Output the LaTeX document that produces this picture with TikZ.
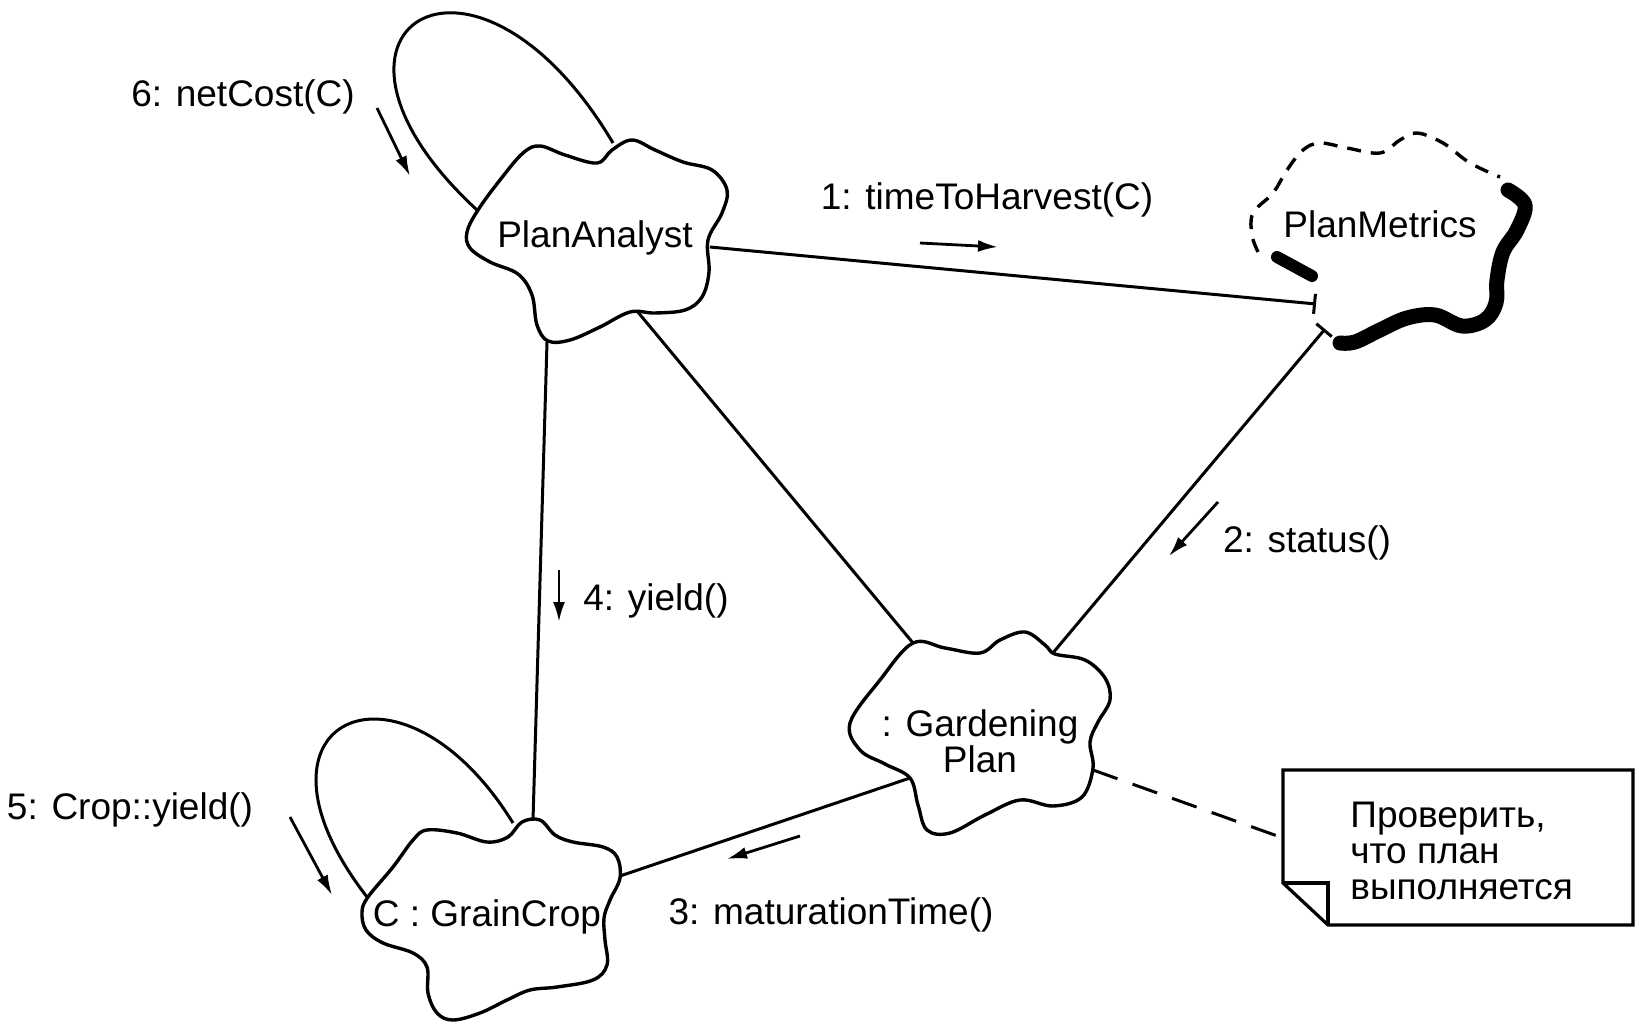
\documentclass[tikz,border=0pt]{standalone}
\usepackage{fontspec}
\setmainfont{Liberation Sans}
\usetikzlibrary{arrows.meta}
\begin{document}
\begin{tikzpicture}[x=0.5pt,y=-0.5pt,
  cloudline/.style={line width=1.7pt, line join=round},
  link/.style={line width=1.5pt},
  msg/.style={line width=1.4pt, -{Latex[length=10pt,width=6pt]}},
  lbl/.style={font=\fontsize{18.5}{21}\selectfont, inner sep=0pt},
  notebox/.style={line width=1.6pt, line join=miter}]

\useasboundingbox (0,0) rectangle (1639,1033);
\fill[white] (0,0) rectangle (1639,1033);

% ---- object clouds ----
% PlanAnalyst
\draw[cloudline] plot[smooth cycle, tension=0.6] coordinates {
  (467,232) (478,210) (500,180) (523,153) (540,146) (565,155) (597,163)
  (612,150) (632,140) (655,150) (683,162) (712,170) (727,190) (722,213)
  (708,240) (709,272) (702,297) (685,310) (655,313) (630,312) (600,327)
  (570,340) (548,341) (537,325) (532,295) (518,274) (490,262) (470,248)};
\node[lbl] (pa) at (595,238) {PlanAnalyst};

% : Gardening Plan
\draw[cloudline] plot[smooth cycle, tension=0.6] coordinates {
  (850,723) (880,680) (913,643) (945,648) (980,653) (1000,640) (1025,632)
  (1045,645) (1055,654) (1085,660) (1105,678) (1110,700) (1098,722)
  (1090,742) (1093,768) (1082,797) (1053,806) (1020,800) (985,815)
  (950,833) (927,830) (918,805) (910,778) (885,764) (860,750)};
\node[lbl, align=center] (gp) at (980,741) {: Gardening\\[-3pt]Plan};

% C : GrainCrop
\draw[cloudline] plot[smooth cycle, tension=0.6] coordinates {
  (368,897) (362,912) (366,930) (383,943) (413,953) (427,967) (428,993)
  (437,1013) (453,1020) (480,1013) (507,1000) (530,990) (557,987)
  (593,980) (607,965) (605,940) (604,918) (610,900) (620,878) (617,857)
  (603,847) (573,842) (555,835) (540,820) (522,822) (508,837) (487,842)
  (457,833) (427,830) (413,840) (393,867)};
\node[lbl] (gc) at (487,917) {C : GrainCrop};

% PlanMetrics: dashed outline with a heavy stroke on its lower right
\draw[line width=1.7pt, dash pattern=on 7pt off 5pt] plot[smooth, tension=0.6] coordinates {
  (1258,252) (1252,235) (1253,213) (1273,193) (1287,170) (1303,150)
  (1320,143) (1347,148) (1380,153) (1400,140) (1417,133) (1443,143)
  (1470,163) (1500,177)};
\draw[line width=7.5pt, line cap=round, line join=round] plot[smooth, tension=0.6] coordinates {
  (1508,190) (1525,205) (1517,230) (1503,252) (1497,280) (1496,303)
  (1485,320) (1462,326) (1435,315) (1407,318) (1380,330) (1355,342) (1340,343)};
\draw[line width=6pt, line cap=round] (1277,257) -- (1312,276);
\node[lbl] (pm) at (1380,224) {PlanMetrics};

% ---- attachment points on the outlines ----
\coordinate (pa-e)  at (710,247);
\coordinate (pa-se) at (637,311);
\coordinate (pa-s)  at (547,342);
\coordinate (pa-la) at (477,210);
\coordinate (pa-lb) at (613,143);
\coordinate (pm-w)  at (1316,304);
\coordinate (pm-sw) at (1325,329);
\coordinate (gp-nw) at (913,643);
\coordinate (gp-ne) at (1052,654);
\coordinate (gp-sw) at (910,778);
\coordinate (gp-e)  at (1093,770);
\coordinate (gc-n)  at (533,820);
\coordinate (gc-ne) at (620,876);
\coordinate (gc-la) at (367,897);
\coordinate (gc-lb) at (513,823);

% ---- links ----
\draw[link, -{Bar[width=10pt]}] (pa-e) -- (pm-w);
\draw[link, {Bar[width=10pt]}-] (pm-sw) -- (gp-ne);
\draw[link] (pa-se) -- (gp-nw);
\draw[link] (pa-s) -- (gc-n);
\draw[link] (gp-sw) -- (gc-ne);
\draw[link] (pa-la) .. controls +(-195,-180) and +(-140,-236) .. (pa-lb);
\draw[link] (gc-la) .. controls +(-137,-177) and +(-113,-183) .. (gc-lb);

% ---- note ----
\coordinate (nt-w) at (1283,838);
\draw[notebox] (1283,770) -- (1633,770) -- (1633,925) -- (1328,925)
  -- (1283,883) -- cycle;
\draw[notebox] (1283,883) -- (1328,883) -- (1328,925);
\node[lbl, anchor=north west, align=left] (note) at (1350,802)
  {Проверить,\\[-3pt]что план\\[-3pt]выполняется};
\draw[link, dash pattern=on 13pt off 8pt] (gp-e) -- (nt-w);

% ---- messages ----
\node[lbl] (m1) at (987,200) {1: timeToHarvest(C)};
\draw[msg] (920,243) -- (998,247);
\node[lbl] (m2) at (1307,543) {2: status()};
\draw[msg] (1218,502) -- (1169,556);
\node[lbl] (m3) at (831,915) {3: maturationTime()};
\draw[msg] (800,836) -- (727,859);
\node[lbl] (m4) at (656,601) {4: yield()};
\draw[msg] (559,570) -- (559,622);
\node[lbl] (m5) at (130,810) {5: Crop::yield()};
\draw[msg] (290,817) -- (332,895);
\node[lbl] (m6) at (243,97) {6: netCost(C)};
\draw[msg] (377,108) -- (410,176);
\end{tikzpicture}
\end{document}
